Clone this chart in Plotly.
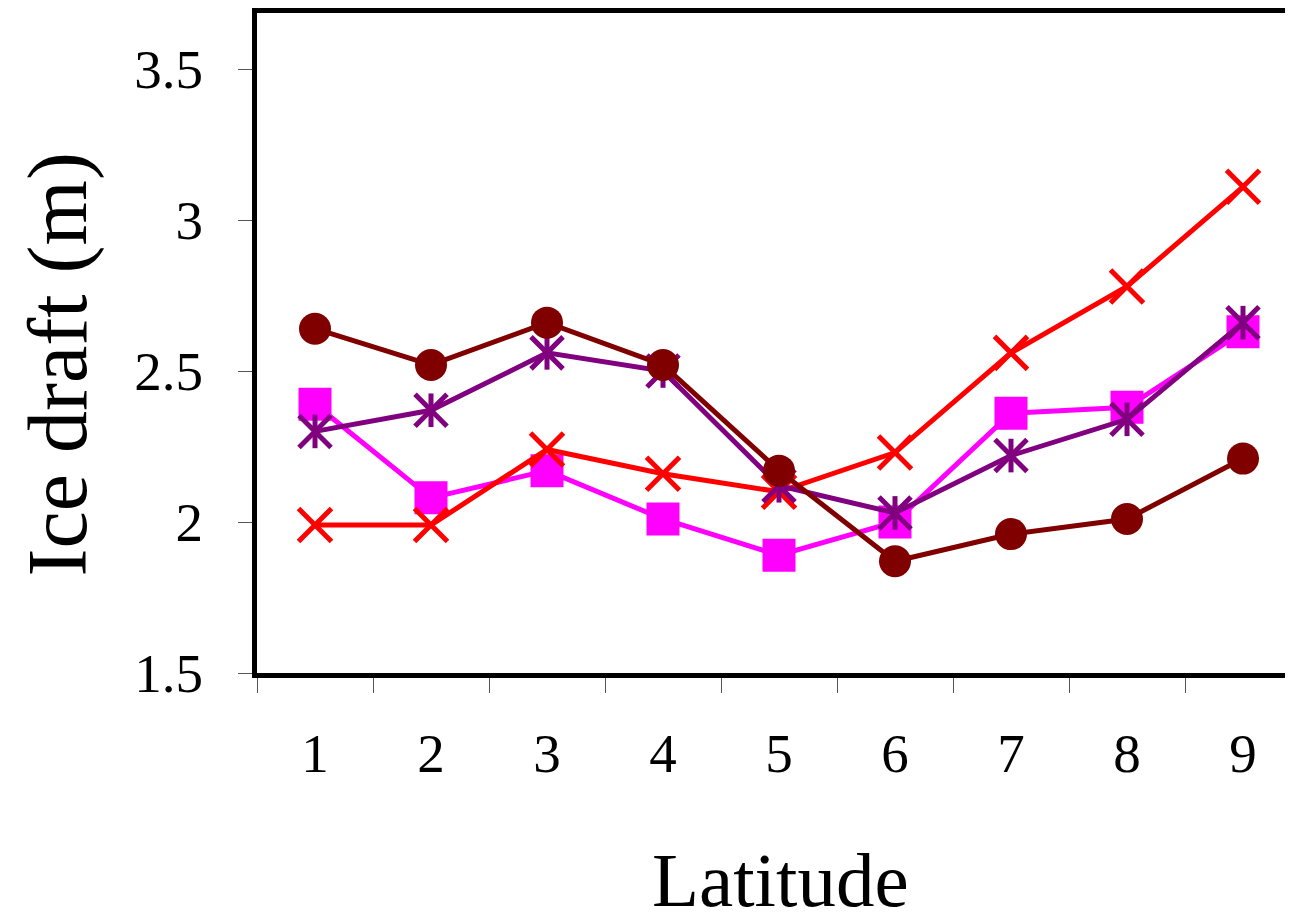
import plotly.graph_objects as go

# ---- data ----
latitude = ["1", "2", "3", "4", "5", "6", "7", "8", "9"]
series_darkred = [2.64, 2.52, 2.66, 2.52, 2.17, 1.87, 1.96, 2.01, 2.21]
series_magenta = [2.39, 2.08, 2.17, 2.01, 1.89, 2.00, 2.36, 2.38, 2.63]
series_purple = [2.30, 2.37, 2.56, 2.50, 2.12, 2.03, 2.22, 2.34, 2.66]
series_red = [1.99, 1.99, 2.24, 2.16, 2.10, 2.23, 2.56, 2.78, 3.11]

y_ticks = [1.5, 2, 2.5, 3, 3.5]
y_ticklabels = ["1.5", "2", "2.5", "3", "3.5"]

FONT = "Liberation Serif"
# the page body adds an 8px margin, so the figure is 8px smaller than the window
OFF = 8
W, H = 1293 - OFF, 924 - OFF
L, R, T, B = 249, 0, 5, 251

fig = go.Figure()

fig.add_trace(go.Scatter(
    x=latitude, y=series_magenta, mode="lines+markers",
    line=dict(color="#FF00FF", width=5),
    marker=dict(symbol="square", size=30, color="#FF00FF",
                line=dict(color="#FF00FF", width=3)),
    showlegend=False, hoverinfo="skip"))

fig.add_trace(go.Scatter(
    x=latitude, y=series_red, mode="lines+markers",
    line=dict(color="#FF0000", width=5),
    marker=dict(symbol="x-thin", size=33, color="#FF0000",
                line=dict(color="#FF0000", width=5)),
    showlegend=False, hoverinfo="skip"))

fig.add_trace(go.Scatter(
    x=latitude, y=series_purple, mode="lines+markers",
    line=dict(color="#800080", width=5),
    marker=dict(symbol="x-thin", size=32, color="#800080",
                line=dict(color="#800080", width=5)),
    showlegend=False, hoverinfo="skip"))
fig.add_trace(go.Scatter(
    x=latitude, y=series_purple, mode="markers",
    marker=dict(symbol="line-ns", size=24, color="#800080",
                line=dict(color="#800080", width=5)),
    showlegend=False, hoverinfo="skip"))

fig.add_trace(go.Scatter(
    x=latitude, y=series_darkred, mode="lines+markers",
    line=dict(color="#800000", width=5),
    marker=dict(symbol="circle", size=32, color="#800000"),
    showlegend=False, hoverinfo="skip"))

x_max = -0.5 + (W - L - R) / 116.0
y_top = 1.5 + (H - T - B) / 302.0


def px_x(sx):
    return (sx - OFF - L) / (W - L - R)


def px_y(sy):
    return (H - B - (sy - OFF)) / (H - T - B)


fig.update_layout(
    width=W, height=H,
    margin=dict(l=L, r=R, t=T, b=B, pad=0),
    paper_bgcolor="white", plot_bgcolor="white",
    font=dict(family=FONT, color="black"),
    xaxis=dict(
        type="category", range=[-0.5, x_max],
        tickson="boundaries", ticks="outside", ticklen=15, tickwidth=1.2,
        tickcolor="#555555",
        showline=True, linecolor="black", linewidth=5, mirror=True,
        showgrid=False, zeroline=False,
        tickfont=dict(family=FONT, size=55, color="black"),
        ticklabelstandoff=28,
    ),
    yaxis=dict(
        range=[1.5, y_top],
        tickvals=y_ticks, ticktext=y_ticklabels,
        ticks="outside", ticklen=14, tickwidth=1.2, tickcolor="#555555",
        showline=True, linecolor="black", linewidth=5, mirror=False,
        showgrid=False, zeroline=False,
        tickfont=dict(family=FONT, size=55, color="black"),
        ticklabelstandoff=24,
    ),
    yaxis2=dict(
        overlaying="y", anchor="x", side="left",
        range=[1.5, y_top], tick0=1.5, dtick=0.1,
        ticks="inside", ticklen=9, tickwidth=1.2, tickcolor="#555555",
        showticklabels=False, showline=False, showgrid=False, zeroline=False,
    ),
    annotations=[
        dict(text="Ice draft (m)", xref="paper", yref="paper",
             x=px_x(57), y=px_y(364.5),
             xanchor="center", yanchor="middle", textangle=-90,
             showarrow=False, font=dict(family=FONT, size=84, color="black")),
        dict(text="Latitude", xref="paper", yref="paper",
             x=px_x(780), y=px_y(880),
             xanchor="center", yanchor="middle",
             showarrow=False, font=dict(family=FONT, size=77, color="black")),
    ],
)

fig.write_html("out.html")
